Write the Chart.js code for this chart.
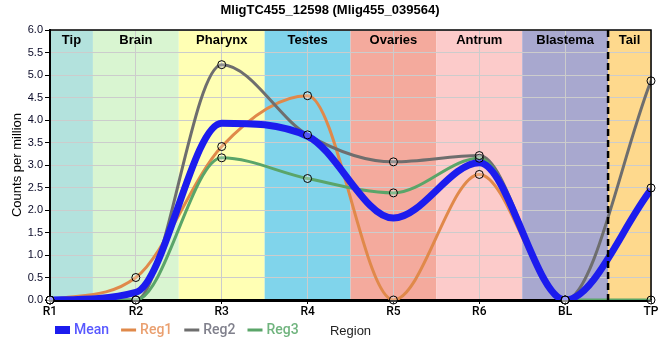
<!DOCTYPE html>
<html>
<head>
<meta charset="utf-8">
<script src="https://cdn.jsdelivr.net/npm/chart.js@4/dist/chart.umd.min.js"></script>
<style>
  html, body { margin: 0; padding: 0; background: #fff; }
  #wrap { width: 660px; height: 360px; }
</style>
</head>
<body>
<div id="wrap"><canvas id="myChart" width="660" height="360"></canvas></div>
<script>
// data
const regions = ['R1', 'R2', 'R3', 'R4', 'R5', 'R6', 'BL', 'TP']
const mean = [0, 0.17, 3.93, 3.64, 1.82, 3.05, 0, 2.45]
const reg1 = [0, 0.5, 3.41, 4.54, 0, 2.79, 0, 2.49]
const reg2 = [0, 0, 5.23, 3.67, 3.07, 3.21, 0, 4.87]
const reg3 = [0, 0, 3.16, 2.7, 2.38, 3.15, 0, 0]

const bandNames = ['Tip', 'Brain', 'Pharynx', 'Testes', 'Ovaries', 'Antrum', 'Blastema', 'Tail']
const bandEdges = [0, 0.5, 1.5, 2.5, 3.5, 4.5, 5.5, 6.5, 7]
const bandColors = ['#b3e2dd', '#d9f5d1', '#ffffb4', '#80d4eb', '#f4aa9d', '#fccbca', '#a8a8cf', '#fed98d']

const yTicks = [0, 0.5, 1, 1.5, 2, 2.5, 3, 3.5, 4, 4.5, 5, 5.5, 6]

const toXY = arr => arr.map((v, i) => ({x: i, y: v}))

const bandsPlugin = {
    id: 'bands',
    beforeDraw: chart => {
        const ctx = chart.ctx
        const x = chart.scales.x
        const a = chart.chartArea
        ctx.save()
        for (let i = 0; i < bandNames.length; i++) {
            let x0 = x.getPixelForValue(bandEdges[i])
            let x1 = x.getPixelForValue(bandEdges[i + 1])
            ctx.fillStyle = bandColors[i]
            ctx.fillRect(x0, a.top, x1 - x0, a.bottom - a.top)
        }
        ctx.restore()
    },
    afterDatasetsDraw: chart => {
        const ctx = chart.ctx
        const x = chart.scales.x
        const a = chart.chartArea
        ctx.save()
        // band labels
        ctx.font = 'bold 13px "Liberation Sans"'
        ctx.fillStyle = '#000'
        ctx.textAlign = 'center'
        ctx.textBaseline = 'middle'
        for (let i = 0; i < bandNames.length; i++) {
            let cx = (x.getPixelForValue(bandEdges[i]) + x.getPixelForValue(bandEdges[i + 1])) / 2
            ctx.fillText(bandNames[i], cx, a.top + 10)
        }
        // dashed divider before tail
        let dx = x.getPixelForValue(6.5)
        ctx.strokeStyle = '#000'
        ctx.lineWidth = 2.5
        ctx.setLineDash([7, 4])
        ctx.beginPath()
        ctx.moveTo(dx, a.top)
        ctx.lineTo(dx, a.bottom + 5)
        ctx.stroke()
        ctx.setLineDash([])
        // top and right frame
        ctx.lineWidth = 1.5
        ctx.beginPath()
        ctx.moveTo(a.left, a.top)
        ctx.lineTo(a.right, a.top)
        ctx.lineTo(a.right, a.bottom)
        ctx.stroke()
        ctx.restore()
    },
    afterDraw: chart => {
        const ctx = chart.ctx
        const a = chart.chartArea
        ctx.save()
        // title
        ctx.font = 'bold 13px "Liberation Sans"'
        ctx.fillStyle = '#000'
        ctx.textAlign = 'center'
        ctx.textBaseline = 'middle'
        ctx.fillText('MligTC455_12598 (Mlig455_039564)', 330, 10)
        // y title
        ctx.font = '13px "Liberation Sans"'
        ctx.translate(17, (a.top + a.bottom) / 2)
        ctx.rotate(-Math.PI / 2)
        ctx.fillText('Counts per million', 0, 0)
        ctx.restore()

        ctx.save()
        ctx.font = '13px "Liberation Sans"'
        ctx.fillStyle = '#222'
        ctx.textAlign = 'center'
        ctx.textBaseline = 'middle'
        ctx.fillText('Region', (a.left + a.right) / 2, 331)

        // legend
        const items = [
            {label: 'Mean', color: 'rgb(28,28,238)', text: 'rgb(88,88,255)', w: 8},
            {label: 'Reg1', color: 'rgb(224,137,74)', text: 'rgb(234,160,112)', w: 3},
            {label: 'Reg2', color: 'rgb(110,110,110)', text: 'rgb(128,128,140)', w: 3},
            {label: 'Reg3', color: 'rgb(90,165,105)', text: 'rgb(112,180,126)', w: 3}
        ]
        ctx.font = '500 14px Roboto'
        ctx.textAlign = 'left'
        let lx = 55
        let ly = 330
        items.forEach(it => {
            ctx.fillStyle = it.color
            ctx.fillRect(lx, ly - it.w / 2, 15, it.w)
            ctx.fillStyle = it.text
            ctx.fillText(it.label, lx + 19, ly)
            lx += 19 + ctx.measureText(it.label).width + 12
        })
        ctx.restore()
    }
}

const lineSet = (label, data, color, width) => ({
    label: label,
    data: toXY(data),
    borderColor: color,
    borderWidth: width,
    pointRadius: 0,
    fill: false,
    cubicInterpolationMode: 'monotone',
    tension: 0.4
})

const pointSet = (label, data) => ({
    label: label,
    data: toXY(data),
    showLine: false,
    pointRadius: 4,
    pointBorderWidth: 1,
    pointBorderColor: '#000',
    pointBackgroundColor: 'rgba(255,255,255,0.25)',
    clip: false
})

let elem = document.querySelector('#myChart')
new Chart(elem, {
    type: 'line',
    data: {
        datasets: [
            pointSet('p1', reg1),
            pointSet('p2', reg2),
            pointSet('p3', reg3),
            lineSet('Mean', mean, 'rgb(28,28,238)', 7),
            lineSet('Reg3', reg3, 'rgb(90,165,105)', 3),
            lineSet('Reg2', reg2, 'rgb(110,110,110)', 3),
            lineSet('Reg1', reg1, 'rgb(224,137,74)', 3)
        ]
    },
    options: {
        responsive: false,
        animation: false,
        layout: {padding: {top: 30, right: 9, left: 0, bottom: 0}},
        plugins: {
            legend: {display: false},
            title: {display: false},
            tooltip: {enabled: false}
        },
        scales: {
            x: {
                type: 'linear',
                min: 0,
                max: 7,
                afterFit: s => { s.height = 60 },
                afterBuildTicks: s => { s.ticks = regions.map((r, i) => ({value: i})) },
                ticks: {
                    callback: v => regions[v],
                    autoSkip: false,
                    maxRotation: 0,
                    padding: 1,
                    color: '#000',
                    font: {family: 'Roboto', size: 12, weight: '500'}
                },
                grid: {color: 'rgb(204,204,204)', tickLength: 4, tickColor: '#000'},
                border: {color: '#000', width: 3}
            },
            y: {
                min: 0,
                max: 6,
                afterFit: s => { s.width = 50 },
                afterBuildTicks: s => { s.ticks = yTicks.map(v => ({value: v})) },
                ticks: {
                    callback: v => v.toFixed(1),
                    padding: 2,
                    color: '#0a0a28',
                    font: {family: 'Liberation Sans', size: 11}
                },
                grid: {color: 'rgb(204,204,204)', tickLength: 5, tickColor: '#000'},
                border: {color: '#000', width: 2}
            }
        }
    },
    plugins: [bandsPlugin]
})
</script>
</body>
</html>
